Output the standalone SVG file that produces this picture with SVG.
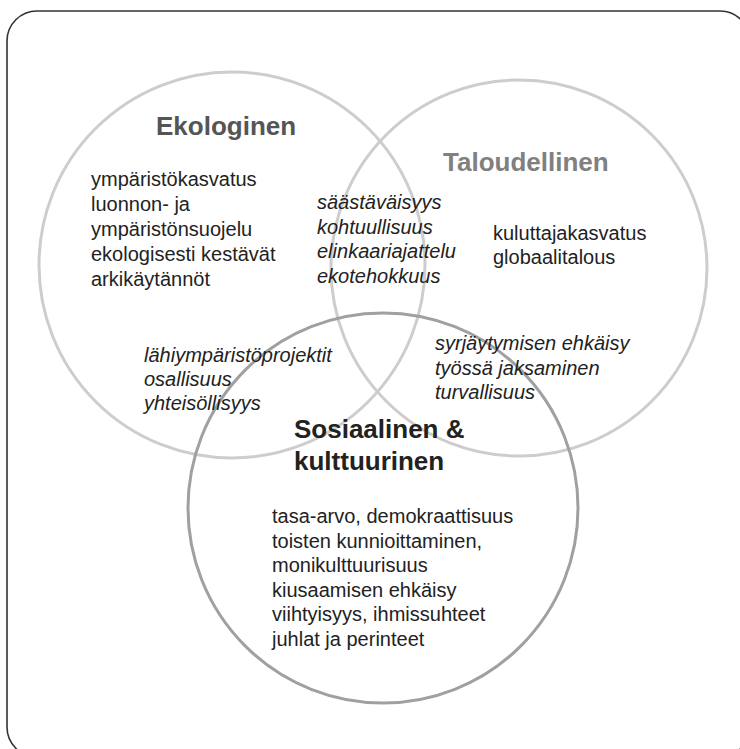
<svg xmlns="http://www.w3.org/2000/svg" width="740" height="749" viewBox="0 0 740 749">
<style>
.frame{fill:none;stroke:#333;stroke-width:1.6}
.c{fill:none;stroke-width:3}
.light{stroke:#cdcdcd}
.dark{stroke:#a0a0a0}
text{font-family:"Liberation Sans",Arial,sans-serif;fill:#222}
.h{font-size:26px;font-weight:bold}
.b{font-size:20px}
.i{font-size:20px;font-style:italic}
</style>
<rect width="740" height="749" fill="#fff"/>
<rect class="frame" x="7" y="11" width="743" height="746" rx="30" ry="30"/>
<g id="connectors"/>
<g id="ekologinen">
<circle class="c light" cx="232" cy="265" r="193"/>
<text class="h" x="156" y="135" style="fill:#555">Ekologinen</text>
<text class="b" x="91" y="186">ympäristökasvatus</text>
<text class="b" x="91" y="211">luonnon- ja</text>
<text class="b" x="91" y="236">ympäristönsuojelu</text>
<text class="b" x="91" y="261">ekologisesti kestävät</text>
<text class="b" x="91" y="286">arkikäytännöt</text>
</g>
<g id="taloudellinen">
<circle class="c light" cx="519" cy="268" r="188"/>
<text class="h" x="443" y="171" style="fill:#808080">Taloudellinen</text>
<text class="b" x="493" y="240">kuluttajakasvatus</text>
<text class="b" x="493" y="264">globaalitalous</text>
</g>
<g id="sosiaalinen">
<circle class="c dark" cx="383" cy="508" r="195"/>
<text class="h" x="294" y="438">Sosiaalinen &amp;</text>
<text class="h" x="294" y="470">kulttuurinen</text>
<text class="b" x="272" y="523">tasa-arvo, demokraattisuus</text>
<text class="b" x="272" y="548">toisten kunnioittaminen,</text>
<text class="b" x="272" y="572">monikulttuurisuus</text>
<text class="b" x="272" y="597">kiusaamisen ehkäisy</text>
<text class="b" x="272" y="621">viihtyisyys, ihmissuhteet</text>
<text class="b" x="272" y="646">juhlat ja perinteet</text>
</g>
<g id="eko-talous">
<text class="i" x="317" y="209">säästäväisyys</text>
<text class="i" x="317" y="233.5">kohtuullisuus</text>
<text class="i" x="317" y="258">elinkaariajattelu</text>
<text class="i" x="317" y="282.5">ekotehokkuus</text>
</g>
<g id="eko-sosiaalinen">
<text class="i" x="144" y="362">lähiympäristöprojektit</text>
<text class="i" x="144" y="386">osallisuus</text>
<text class="i" x="144" y="410">yhteisöllisyys</text>
</g>
<g id="talous-sosiaalinen">
<text class="i" x="435" y="350">syrjäytymisen ehkäisy</text>
<text class="i" x="435" y="375">työssä jaksaminen</text>
<text class="i" x="435" y="399">turvallisuus</text>
</g>
</svg>
